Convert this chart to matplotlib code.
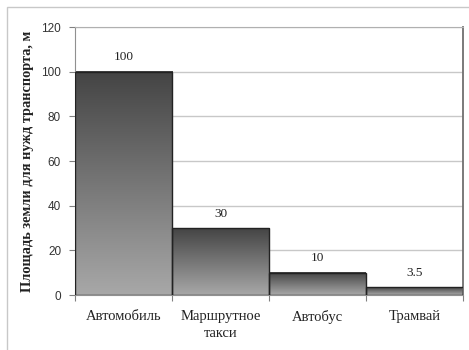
"""Bar chart: land area used per transport type (gradient bars)."""

import matplotlib
matplotlib.use("Agg")
import matplotlib.pyplot as plt
import numpy as np
from matplotlib.colors import LinearSegmentedColormap
from matplotlib.patches import Rectangle

categories = ["Автомобиль", "Маршрутное\nтакси", "Автобус", "Трамвай"]
values = [100, 30, 10, 3.5]
value_labels = ["100", "30", "10", "3.5"]
y_ticks = [0, 20, 40, 60, 80, 100, 120]
y_label = "Площадь земли для нужд транспорта, м"

SERIF = ["Liberation Serif", "DejaVu Serif"]
SANS = ["Liberation Sans", "DejaVu Sans"]

grad = LinearSegmentedColormap.from_list("bar", ["#a8a8a8", "#444444"])

fig = plt.figure(figsize=(4.69, 3.5), dpi=100)
fig.patch.set_facecolor("white")

# outer chart frame
fig.patches.append(Rectangle((7 / 469, -0.1), 1.2, (350 - 7) / 350 + 0.1,
                             transform=fig.transFigure, fill=False,
                             edgecolor="#c8c8c8", linewidth=1.0))

ax = fig.add_axes([75 / 469, 1 - 295 / 350, (463 - 75) / 469, (295 - 27) / 350])

for yv in y_ticks[1:]:
    ax.axhline(yv, color="#c8c8c8", linewidth=1.0, zorder=0)

ramp = np.linspace(0, 1, 256).reshape(-1, 1)
for i, v in enumerate(values):
    ax.imshow(ramp, cmap=grad, origin="lower", aspect="auto",
              extent=(i, i + 1, 0, v), zorder=2, interpolation="bicubic")
    ax.add_patch(Rectangle((i, 0), 1, v, fill=False, edgecolor="#222222",
                           linewidth=1.0, zorder=3))
    ax.annotate(value_labels[i], xy=(i + 0.5, v), xytext=(0, 6),
                textcoords="offset points", ha="center", va="bottom",
                fontsize=9.5, family=SERIF, color="#222222")

ax.set_xlim(0, len(values))
ax.set_ylim(0, 120)

ax.set_yticks(y_ticks)
ax.set_yticklabels([str(t) for t in y_ticks], family=SANS, fontsize=8.5, color="#333333")
ax.set_xticks(np.arange(len(values) + 1))
ax.set_xticklabels([])
ax.set_xticks(np.arange(len(values)) + 0.5, minor=True)
ax.set_xticklabels(categories, minor=True, family=SERIF, fontsize=10.5,
                   color="#222222", linespacing=1.4)
ax.tick_params(axis="x", which="minor", length=0, pad=11)
ax.tick_params(axis="x", which="major", length=4, color="#808080")
ax.tick_params(axis="y", length=4, color="#808080", pad=6)

ax.spines["left"].set_color("#909090")
ax.spines["bottom"].set_color("#909090")
ax.spines["top"].set_color("#b0b0b0")
ax.spines["right"].set_color("#707070")
ax.spines["right"].set_linewidth(1.3)

fig.text(28 / 469, 1 - 161 / 350, y_label, rotation=90, ha="center",
         va="center", family=SERIF, fontsize=10.4, fontweight="bold",
         color="#222222")

fig.savefig("out.png", dpi=100, facecolor="white")
